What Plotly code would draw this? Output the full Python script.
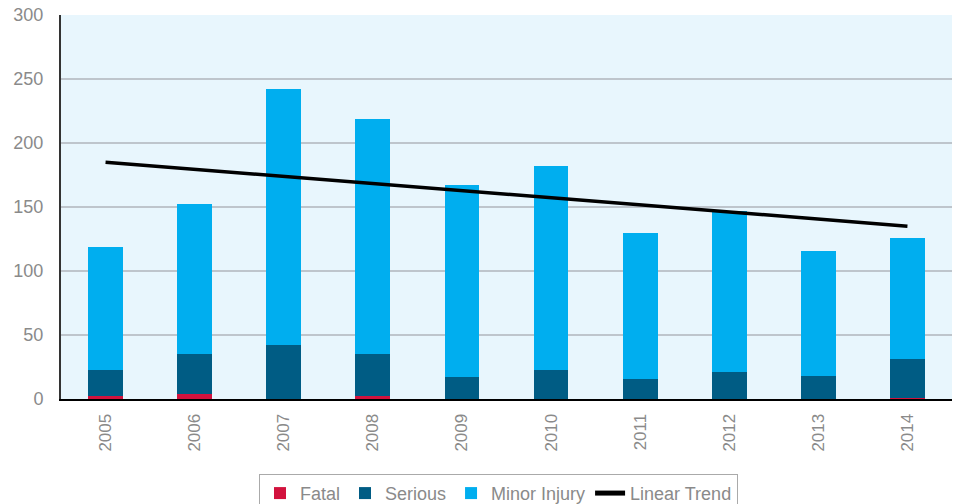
import plotly.graph_objects as go

years = ["2005", "2006", "2007", "2008", "2009", "2010", "2011", "2012", "2013", "2014"]
fatal = [2, 4, 0, 2, 0, 0, 0, 0, 0, 1]
serious = [21, 31, 42, 33, 17, 23, 16, 21, 18, 30]
minor = [96, 117, 200, 184, 150, 159, 114, 126, 98, 95]
trend_years = ["2005", "2014"]
trend_values = [185, 135]

font_family = "Liberation Sans, Arial, sans-serif"
gray_text = "#8a8a8a"

fig = go.Figure()
fig.add_trace(go.Bar(x=years, y=fatal, name="Fatal", marker=dict(color="#D2123D", line=dict(width=0))))
fig.add_trace(go.Bar(x=years, y=serious, name="Serious", marker=dict(color="#005C84", line=dict(width=0))))
fig.add_trace(go.Bar(x=years, y=minor, name="Minor Injury", marker=dict(color="#00AEEF", line=dict(width=0))))
fig.add_trace(go.Scatter(x=trend_years, y=trend_values, name="Linear Trend", mode="lines",
                         line=dict(color="black", width=3.5)))

fig.update_layout(
    barmode="stack",
    bargap=0.61,
    width=955, height=504,
    margin=dict(l=61, r=3, t=15, b=105, autoexpand=False),
    paper_bgcolor="white",
    plot_bgcolor="#E8F6FD",
    font=dict(family=font_family, color=gray_text, size=15),
    showlegend=True,
    legend=dict(
        orientation="h", x=0.491, xanchor="center", y=-0.195, yanchor="top",
        bordercolor="#AAAAAA", borderwidth=1, bgcolor="white",
        font=dict(size=18, color=gray_text, family=font_family),
        itemwidth=30, tracegroupgap=0, itemsizing="constant",
        traceorder="normal",
    ),
    xaxis=dict(
        tickangle=-90, tickfont=dict(size=17, color=gray_text),
        showline=True, linecolor="black", linewidth=2,
        showgrid=False, ticks="", ticklabelstandoff=6,
    ),
    yaxis=dict(
        range=[0, 300], tickvals=[0, 50, 100, 150, 200, 250, 300],
        tickfont=dict(size=18, color=gray_text),
        showgrid=True, gridcolor="#BEC5CC", gridwidth=1.5,
        showline=True, linecolor="#333333", linewidth=2,
        zeroline=False, ticks="", ticklabelstandoff=12,
    ),
)

fig.write_html("out.html")
